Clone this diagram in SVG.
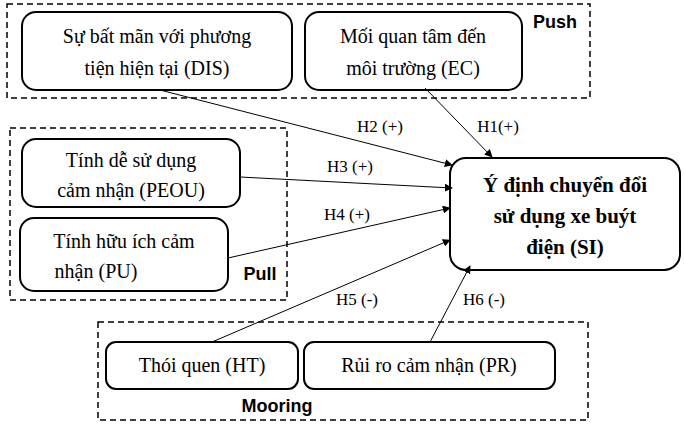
<svg xmlns="http://www.w3.org/2000/svg" width="685" height="427" viewBox="0 0 685 427">
<style>
.dash{fill:none;stroke:#000;stroke-width:1.5;stroke-dasharray:6,4}
.node{fill:#fff;stroke:#000;stroke-width:2}
.t{font-family:"Liberation Serif",serif;font-size:20px;text-anchor:middle;fill:#000}
.b{font-family:"Liberation Serif",serif;font-size:21px;font-weight:bold;text-anchor:middle}
.g{font-family:"Liberation Sans",sans-serif;font-size:18px;font-weight:bold;text-anchor:middle}
.l{font-family:"Liberation Serif",serif;font-size:17px;text-anchor:middle}
.c{stroke:#000;stroke-width:1;fill:none;marker-end:url(#a)}
</style>
<defs><marker id="a" viewBox="0 0 10 10" refX="9" refY="5" markerWidth="8" markerHeight="8" orient="auto"><path d="M0,0L10,5L0,10z"/></marker></defs>
<rect width="685" height="427" fill="#fff"/>
<g id="push"><rect class="dash" x="7" y="4" width="583" height="94"/><text class="g" x="555" y="28">Push</text></g>
<g id="pull"><rect class="dash" x="10" y="128" width="277" height="172"/><text class="g" x="260" y="280">Pull</text></g>
<g id="mooring"><rect class="dash" x="98" y="322" width="490" height="98"/><text class="g" x="277" y="412">Mooring</text></g>
<g id="DIS"><rect class="node" x="22" y="12" width="270" height="78" rx="14"/><text class="t" x="157" y="43">Sự bất mãn với phương</text><text class="t" x="157" y="75">tiện hiện tại (DIS)</text></g>
<g id="EC"><rect class="node" x="305" y="12" width="217" height="78" rx="14"/><text class="t" x="413" y="43">Mối quan tâm đến</text><text class="t" x="413" y="75">môi trường (EC)</text></g>
<g id="PEOU"><rect class="node" x="22" y="139" width="218" height="68" rx="14"/><text class="t" x="131" y="167">Tính dễ sử dụng</text><text class="t" x="131" y="197">cảm nhận (PEOU)</text></g>
<g id="PU"><rect class="node" x="20" y="218" width="208" height="73" rx="14"/><text class="t" x="124" y="248">Tính hữu ích cảm</text><text class="t" x="96" y="278">nhận (PU)</text></g>
<g id="SI"><rect class="node" x="450" y="158" width="230" height="112" rx="16"/><text class="b" x="565" y="192">Ý định chuyển đổi</text><text class="b" x="565" y="223">sử dụng xe buýt</text><text class="b" x="565" y="254">điện (SI)</text></g>
<g id="HT"><rect class="node" x="106" y="342" width="192" height="47" rx="10"/><text class="t" x="202" y="372">Thói quen (HT)</text></g>
<g id="PR"><rect class="node" x="304" y="342" width="251" height="47" rx="10"/><text class="t" x="429" y="372">Rủi ro cảm nhận (PR)</text></g>
<g id="connectors">
<line class="c" x1="160" y1="90" x2="452" y2="165"/>
<line class="c" x1="425" y1="88" x2="492" y2="157"/>
<line class="c" x1="240" y1="177" x2="452" y2="188"/>
<line class="c" x1="228" y1="258" x2="450" y2="208"/>
<line class="c" x1="212" y1="342" x2="450" y2="240"/>
<line class="c" x1="430" y1="342" x2="470" y2="266"/>
<text class="l" x="380" y="132">H2 (+)</text>
<text class="l" x="498" y="132">H1(+)</text>
<text class="l" x="350" y="172">H3 (+)</text>
<text class="l" x="347" y="220">H4 (+)</text>
<text class="l" x="357" y="305">H5 (-)</text>
<text class="l" x="484" y="305">H6 (-)</text>
</g>
</svg>
